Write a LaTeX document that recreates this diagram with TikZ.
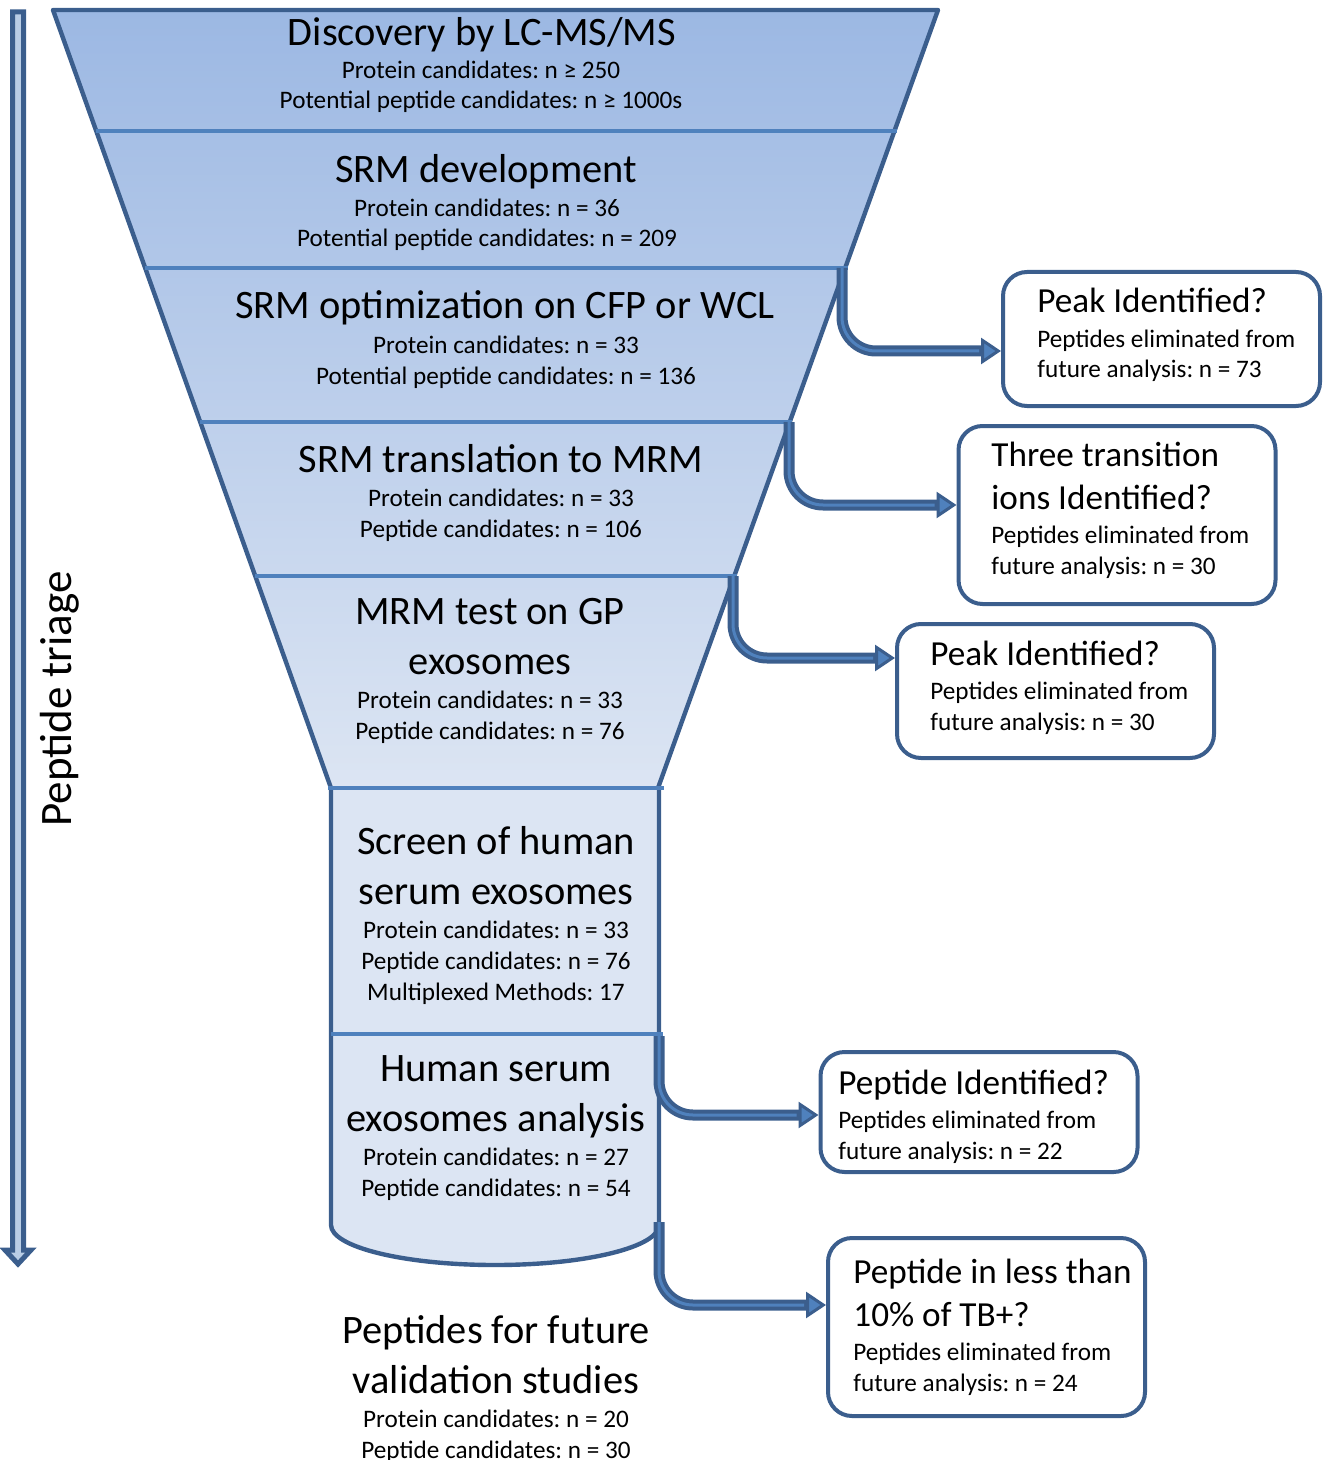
\documentclass[tikz,border=0pt]{standalone}
\usepackage{fontspec}
\setmainfont{Carlito}
\frenchspacing
\usetikzlibrary{arrows.meta}
\usetikzlibrary{positioning}
\definecolor{edgeblue}{RGB}{59,94,141}
\definecolor{sepblue}{RGB}{79,129,189}
\definecolor{topblue}{RGB}{156,184,227}
\definecolor{lowblue}{RGB}{220,229,243}
\definecolor{paleblue}{RGB}{185,205,229}
\tikzset{
  edge/.style={draw=edgeblue, line width=2.2pt, line join=round},
  sep/.style={draw=sepblue, line width=2pt},
  ttl/.style={font=\fontsize{20.2pt}{24.7pt}\selectfont, align=center, inner sep=0pt, anchor=base},
  txt/.style={font=\fontsize{12.6pt}{15.4pt}\selectfont, align=center, inner sep=0pt, anchor=base},
  qttl/.style={font=\fontsize{17.6pt}{21.5pt}\selectfont, align=left, inner sep=0pt, anchor=base west},
  qtxt/.style={font=\fontsize{12.6pt}{15.4pt}\selectfont, align=left, inner sep=0pt, anchor=base west},
  qbox/.style={draw=edgeblue, line width=2pt, rounded corners=12pt, fill=white, minimum width=158.5pt},
  flow/.style={draw=edgeblue, line width=5.5pt, rounded corners=17pt,
    -{Triangle[length=10pt, width=13pt, fill=sepblue, line width=1.5pt]},
    postaction={draw=sepblue, line width=1.5pt, -, shorten >=11pt}},
}

\begin{document}
\begin{tikzpicture}[x=0.5pt, y=-0.5pt]
  \useasboundingbox (0,0) rectangle (1324,1460);

  % triage arrow on the left
  \draw [edge, line width=2.5pt, fill=paleblue, line join=miter]
    (12.5,12) -- (23.5,12) -- (23.5,1250) -- (31,1250) -- (18,1264) -- (5,1250) -- (12.5,1250) -- cycle;
  \node [font=\fontsize{22.5pt}{27pt}\selectfont, rotate=90, inner sep=0pt] (triage) at (60,699) {Peptide triage};

  % funnel
  \shade [top color=topblue, bottom color=lowblue] (53,10) -- (938,10) -- (658,788) -- (331,788) -- cycle;
  \draw [edge] (331,788) -- (53,10) -- (938,10) -- (658,788);

  % cylinder
  \fill [lowblue] (331,788) -- (331,1225) .. controls (331,1247) and (404,1265) .. (495,1265)
    .. controls (586,1265) and (659,1247) .. (659,1225) -- (659,788) -- cycle;
  \draw [edge] (331,788) -- (331,1225) .. controls (331,1247) and (404,1265) .. (495,1265)
    .. controls (586,1265) and (659,1247) .. (659,1225) -- (659,788);

  % stage separators
  \foreach \y/\xa/\xb in {131/96/897, 268/145/848, 422/200/792, 576/255/737, 788/328/664, 1034/331/663} {
    \draw [sep] (\xa,\y) -- (\xb,\y);
  }

  % stages (multi-line nodes sit on their last baseline)
  \node [ttl] (disc) at (482,46) {Discovery by LC-MS/MS};
  \node [txt] (disc-n) at (481,109) {Protein candidates: n ≥ 250\\Potential peptide candidates: n ≥ 1000s};
  \node [ttl] (dev) at (486,183) {SRM development};
  \node [txt] (dev-n) at (487,247) {Protein candidates: n = 36\\Potential peptide candidates: n = 209};
  \node [ttl] (opt) at (505,319) {SRM optimization on CFP or WCL};
  \node [txt] (opt-n) at (506,384) {Protein candidates: n = 33\\Potential peptide candidates: n = 136};
  \node [ttl] (trans) at (501,472) {SRM translation to MRM};
  \node [txt] (trans-n) at (501,537) {Protein candidates: n = 33\\Peptide candidates: n = 106};
  \node [ttl] (gp) at (490,674) {MRM test on GP\\exosomes};
  \node [txt] (gp-n) at (490,739) {Protein candidates: n = 33\\Peptide candidates: n = 76};
  \node [ttl] (screen) at (496,904) {Screen of human\\serum exosomes};
  \node [txt] (screen-n) at (496,1000) {Protein candidates: n = 33\\Peptide candidates: n = 76\\Multiplexed Methods: 17};
  \node [ttl] (serum) at (496,1131) {Human serum\\exosomes analysis};
  \node [txt] (serum-n) at (496,1196) {Protein candidates: n = 27\\Peptide candidates: n = 54};
  \node [ttl] (final) at (496,1393) {Peptides for future\\validation studies};
  \node [txt] (final-n) at (496,1458) {Protein candidates: n = 20\\Peptide candidates: n = 30};

  % questions
  \node [qbox, minimum height=67pt] (q1) at (1161.5,339) {};
  \node [qttl] (q1-t) at (1037,313) {Peak Identified?};
  \node [qtxt] (q1-n) at (1037,378) {Peptides eliminated from\\future analysis: n = 73};

  \node [qbox, minimum height=89pt] (q2) at (1117,515) {};
  \node [qttl] (q2-t) at (991,509) {Three transition\\ions Identified?};
  \node [qtxt] (q2-n) at (991,574) {Peptides eliminated from\\future analysis: n = 30};

  \node [qbox, minimum height=67pt] (q3) at (1055.5,691) {};
  \node [qttl] (q3-t) at (930,665) {Peak Identified?};
  \node [qtxt] (q3-n) at (930,730) {Peptides eliminated from\\future analysis: n = 30};

  \node [qbox, minimum height=60pt] (q4) at (979,1112) {};
  \node [qttl] (q4-t) at (838,1094) {Peptide Identified?};
  \node [qtxt] (q4-n) at (838,1159) {Peptides eliminated from\\future analysis: n = 22};

  \node [qbox, minimum height=89pt] (q5) at (986.5,1327) {};
  \node [qttl] (q5-t) at (853,1326) {Peptide in less than\\10\% of TB+?};
  \node [qtxt] (q5-n) at (853,1391) {Peptides eliminated from\\future analysis: n = 24};

  % eliminated peptides
  \coordinate (s1) at (842,268);
  \coordinate (s2) at (789,422);
  \coordinate (s3) at (733,576);
  \coordinate (s4) at (659,1036);
  \coordinate (s5) at (659,1222);
  \draw [flow] (s1) |- ([yshift=-6pt]q1.west);
  \draw [flow] (s2) |- ([yshift=5pt]q2.west);
  \draw [flow] (s3) |- ([yshift=16.5pt]q3.west);
  \draw [flow] (s4) |- ([yshift=-1.5pt]q4.west);
  \draw [flow] (s5) |- ([yshift=11pt]q5.west);

\end{tikzpicture}
\end{document}
